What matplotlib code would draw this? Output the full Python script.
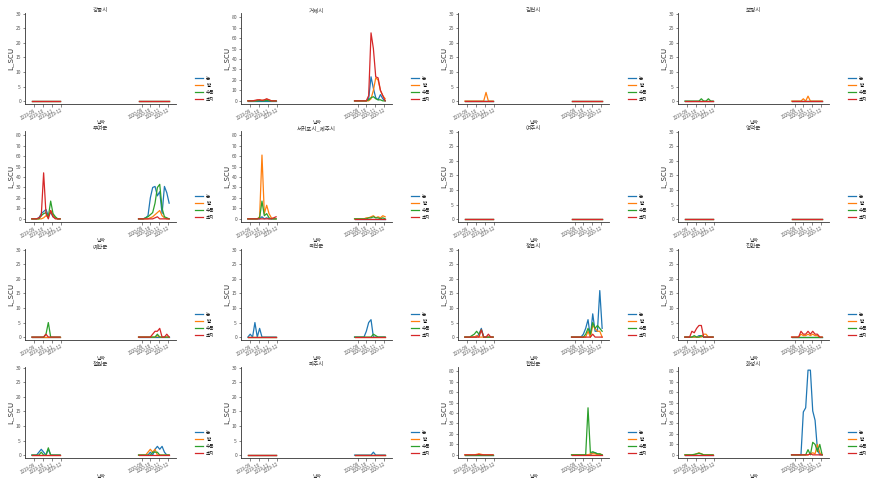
import matplotlib
matplotlib.use("Agg")
import matplotlib.pyplot as plt
import matplotlib.dates as mdates
import pandas as pd
import numpy as np

plt.rcParams['font.family'] = ['Noto Sans CJK KR', 'DejaVu Sans']

# ---- data ----
dates_2019 = ['2019-08-25', '2019-09-02', '2019-09-10', '2019-09-18', '2019-09-26',
              '2019-10-04', '2019-10-12', '2019-10-20', '2019-10-28', '2019-11-05',
              '2019-11-13', '2019-11-21', '2019-11-29']
dates_2020 = ['2020-08-22', '2020-08-30', '2020-09-07', '2020-09-15', '2020-09-23',
              '2020-10-01', '2020-10-09', '2020-10-17', '2020-10-25', '2020-11-02',
              '2020-11-10', '2020-11-18', '2020-11-26', '2020-12-04']

series_names = ['논', '밭', '수목', '초지']
series_colors = ['#1f77b4', '#ff7f0e', '#2ca02c', '#d62728']

tick_dates = ['2019-09-01', '2019-10-01', '2019-11-01', '2019-12-01',
              '2020-09-01', '2020-10-01', '2020-11-01', '2020-12-01']
tick_labels = ['2019-09', '2019-10', '2019-11', '2019-12',
               '2020-09', '2020-10', '2020-11', '2020-12']

regions = ['강릉시', '거제시', '김천시', '보령시',
           '부여군', '서귀포시_제주시', '여주시', '영덕군',
           '예산군', '옥천군', '정읍시', '진안군',
           '철원군', '파주시', '합천군', '화성시']

big_scale = ['거제시', '부여군', '서귀포시_제주시', '합천군', '화성시']

Z19 = [0] * 13
Z20 = [0] * 14

# values[region] = {series: (2019 values, 2020 values)}
values = {
    '강릉시': {'논': (Z19, Z20), '밭': (Z19, Z20), '수목': (Z19, Z20), '초지': (Z19, Z20)},
    '거제시': {
        '논': (Z19, [0, 0, 0, 0, 0, 0, 2, 23, 12, 3, 1, 6, 2, 0]),
        '밭': ([0, 0, 0, 0, 0.5, 1, 0.5, 0.5, 1.5, 1, 0, 0, 0], [0, 0, 0, 0, 0, 0, 0, 2, 10, 22, 20, 10, 5, 2]),
        '수목': ([0, 0, 0, 0, 0, 0.3, 0, 0, 0.5, 0, 0, 0, 0], [0, 0, 0, 0, 0, 0, 1, 3, 4, 2, 1, 1, 0, 0]),
        '초지': ([0, 0, 0, 0.5, 1, 1, 0.5, 1, 2, 1, 0, 0, 0], [0, 0, 0, 0, 0, 0, 5, 65, 50, 23, 22, 10, 5, 0]),
    },
    '김천시': {
        '논': (Z19, Z20),
        '밭': ([0, 0, 0, 0, 0, 0, 0, 0, 0, 3, 0, 0, 0], Z20),
        '수목': (Z19, Z20),
        '초지': (Z19, Z20),
    },
    '보령시': {
        '논': (Z19, Z20),
        '밭': (Z19, [0, 0, 0, 0, 0, 0.8, 0, 1.7, 0, 0, 0, 0, 0, 0]),
        '수목': ([0, 0, 0, 0, 0, 0, 0, 0.8, 0, 0, 0.8, 0, 0], Z20),
        '초지': (Z19, Z20),
    },
    '부여군': {
        '논': ([0, 0, 0, 1, 5, 7, 9, 3, 6, 2, 1, 0, 0], [0, 0, 0, 1, 3, 20, 30, 31, 22, 26, 5, 31, 25, 15]),
        '밭': ([0, 0, 0, 0, 0, 1, 3, 2, 8, 4, 1, 0, 0], [0, 0, 0, 0, 0, 1, 2, 4, 6, 8, 3, 1, 0, 0]),
        '수목': ([0, 0, 0, 0, 3, 5, 6, 2, 17, 5, 2, 0, 0], [0, 0, 0, 1, 2, 4, 6, 15, 30, 33, 10, 2, 1, 0]),
        '초지': ([0, 0, 0, 1, 3, 44, 5, 0, 8, 2, 0, 0, 0], [0, 0, 0, 0, 0, 0, 0, 1, 2, 0, 0, 0, 0, 0]),
    },
    '서귀포시_제주시': {
        '논': ([0, 0, 0, 0, 0, 0, 2, 0, 1, 0, 0, 0, 0], Z20),
        '밭': ([0, 0, 0, 0, 0, 2, 61, 5, 13, 5, 1, 0, 0], [0, 0, 0, 0, 0, 1, 1, 2, 3, 1, 2, 1, 3, 2]),
        '수목': ([0, 0, 0, 0, 0, 1, 17, 3, 5, 1, 0, 0, 0], [0, 0, 0, 0, 0, 0, 1, 1, 2, 1, 1, 0, 1, 0]),
        '초지': ([0, 0, 0, 0, 0, 0, 0, 0, 0, 0, 0, 1, 2], Z20),
    },
    '여주시': {'논': (Z19, Z20), '밭': (Z19, Z20), '수목': (Z19, Z20), '초지': (Z19, Z20)},
    '영덕군': {'논': (Z19, Z20), '밭': (Z19, Z20), '수목': (Z19, Z20), '초지': (Z19, Z20)},
    '예산군': {
        '논': (Z19, Z20),
        '밭': (Z19, [0, 0, 0, 0, 0, 0, 0, 0, 0.5, 0, 0, 0, 0, 0]),
        '수목': ([0, 0, 0, 0, 0, 0, 1, 5, 0, 0, 0, 0, 0], [0, 0, 0, 0, 0, 0, 0, 0, 1, 0, 0, 0, 0, 0]),
        '초지': ([0, 0, 0, 0, 0, 0, 1, 0, 0, 0, 0, 0, 0], [0, 0, 0, 0, 0, 0, 1, 2, 2, 3, 0, 0, 1, 0]),
    },
    '옥천군': {
        '논': ([0, 1, 0, 5, 0, 3, 0, 0, 0, 0, 0, 0, 0], [0, 0, 0, 0, 0, 2, 5, 6, 0, 0, 0, 0, 0, 0]),
        '밭': (Z19, Z20),
        '수목': (Z19, [0, 0, 0, 0, 0, 0, 0, 0, 1, 0.5, 0, 0, 0, 0]),
        '초지': (Z19, Z20),
    },
    '정읍시': {
        '논': ([0, 0, 0, 0, 0, 0, 1, 3, 0, 0, 0, 0, 0], [0, 0, 0, 0, 0, 1, 3, 6, 0, 8, 2, 2, 16, 3]),
        '밭': ([0, 0, 0, 0, 0, 0.5, 0, 0, 0, 0, 0, 0, 0], [0, 0, 0, 0, 0, 0, 0, 2, 0, 4, 3, 2, 2, 0]),
        '수목': ([0, 0, 0, 0.5, 1, 2, 1, 2.5, 0, 0, 0, 0, 0], [0, 0, 0, 0, 0, 0, 1, 3, 1, 5, 3, 4, 3, 2]),
        '초지': ([0, 0, 0, 0, 0, 0, 0, 2.5, 0, 0, 1, 0, 0], [0, 0, 0, 0, 0, 0, 0, 0, 0, 1, 0, 0, 0, 0]),
    },
    '진안군': {
        '논': ([0, 0, 0, 0, 0, 0, 0.5, 0.5, 0, 0, 0, 0, 0], Z20),
        '밭': ([0, 0, 0, 0, 0, 0, 0, 0, 1, 1, 0, 0, 0], [0, 0, 0, 0, 1, 0.5, 0.5, 1, 0.5, 1, 0.5, 0.5, 0, 0]),
        '수목': ([0, 0, 0, 0, 0.5, 0, 0, 0.5, 0, 0, 0, 0, 0], Z20),
        '초지': ([0, 0, 0, 2, 1.5, 3, 4, 4, 0, 0, 0, 0, 0], [0, 0, 0, 0, 2, 1, 1, 2, 1, 2, 1, 1, 0, 0]),
    },
    '철원군': {
        '논': ([0, 0, 0, 1, 2, 1, 0, 2, 0, 0, 0, 0, 0], [0, 0, 0, 0, 0, 1, 0, 2, 3, 2, 3, 1, 0, 0]),
        '밭': (Z19, [0, 0, 0, 0, 1, 2, 1, 2, 0, 0, 0, 0, 0, 0]),
        '수목': ([0, 0, 0, 0, 1, 0, 0, 2.5, 0, 0, 0, 0, 0], [0, 0, 0, 0, 0, 0, 1, 1, 1, 0, 0, 0, 0, 0]),
        '초지': (Z19, Z20),
    },
    '파주시': {
        '논': (Z19, [0, 0, 0, 0, 0, 0, 0, 0, 1, 0, 0, 0, 0, 0]),
        '밭': (Z19, Z20),
        '수목': (Z19, Z20),
        '초지': (Z19, Z20),
    },
    '합천군': {
        '논': (Z19, [0, 0, 0, 0, 0, 0, 0, 0, 0, 2, 2, 1, 0, 0]),
        '밭': ([0, 0, 0, 0, 0, 0.5, 1, 0.5, 0, 0, 0, 0, 0], [0, 0, 0, 0, 0, 0, 0, 0, 1, 1, 1, 0, 1, 0]),
        '수목': (Z19, [0, 0, 0, 0, 0, 0, 0, 45, 2, 3, 2, 1, 1, 0]),
        '초지': ([0, 0, 0, 0, 0, 0, 0.5, 0, 0, 0, 0, 0, 0], Z20),
    },
    '화성시': {
        '논': (Z19, [0, 0, 0, 0, 0, 41, 45, 81, 81, 42, 33, 5, 0, 0]),
        '밭': ([0, 0, 0, 0, 0, 1, 2, 1, 0, 0, 0, 0, 0], [0, 0, 0, 0, 0, 0, 0, 0, 1, 2, 1, 10, 2, 0]),
        '수목': ([0, 0, 0, 0, 0.5, 1, 1.5, 1, 0, 0, 0, 0, 0], [0, 0, 0, 0, 0, 0, 0, 5, 0, 12, 10, 3, 10, 0]),
        '초지': ([0, 0, 0, 0, 0, 0, 0, 0, 0, 0, 0, 0, 0], [0, 0, 0, 0, 0, 0, 0, 0, 1, 0, 0, 0, 0, 0]),
    },
}

# ---- layout ----
W, H = 875, 480
fig = plt.figure(figsize=(W / 100, H / 100), dpi=100)
col_left = [25, 241, 458, 678]
row_top = [0, 118, 236, 354]
ax_w, ax_top, ax_bot = 151, 13, 104

x19 = pd.to_datetime(dates_2019)
x20 = pd.to_datetime(dates_2020)
ticks = mdates.date2num(pd.to_datetime(tick_dates).to_pydatetime())

for k, region in enumerate(regions):
    r, c = divmod(k, 4)
    left = col_left[c] / W
    bottom = 1 - (row_top[r] + ax_bot) / H
    height = (ax_bot - ax_top) / H
    ax = fig.add_axes([left, bottom, ax_w / W, height])
    for name, color in zip(series_names, series_colors):
        v19, v20 = values[region][name]
        ax.plot(x19, v19, color=color, lw=0.9, label=name)
        ax.plot(x20, v20, color=color, lw=0.9)
    if region in big_scale:
        ax.set_ylim(-3, 84)
        ax.set_yticks(range(0, 81, 10))
    else:
        ax.set_ylim(-1, 30.3)
        ax.set_yticks(range(0, 31, 5))
    ax.set_xticks(ticks)
    ax.set_xticklabels(tick_labels, rotation=30, ha='right', rotation_mode='anchor')
    ax.tick_params(axis='y', labelsize=3.6, length=1.8, width=0.5, pad=1, colors='#555555')
    ax.tick_params(axis='x', labelsize=3.2, length=1.8, width=0.5, pad=1, colors='#555555')
    for s in ['top', 'right']:
        ax.spines[s].set_visible(False)
    for s in ['left', 'bottom']:
        ax.spines[s].set_linewidth(0.6)
        ax.spines[s].set_color('#333333')
    ax.set_title(region, fontsize=4.0, pad=0.5, color='#333333')
    ax.set_ylabel('L_SCU', fontsize=5.5, labelpad=1, color='#333333')
    ax.set_xlabel('날짜', fontsize=3.4, labelpad=0, color='#333333')
    ax.legend(loc='lower left', bbox_to_anchor=(1.1, -0.02), frameon=False,
              fontsize=3.3, handlelength=1.6, labelspacing=0.45, handletextpad=0.8)

fig.savefig('out.png', dpi=100)
